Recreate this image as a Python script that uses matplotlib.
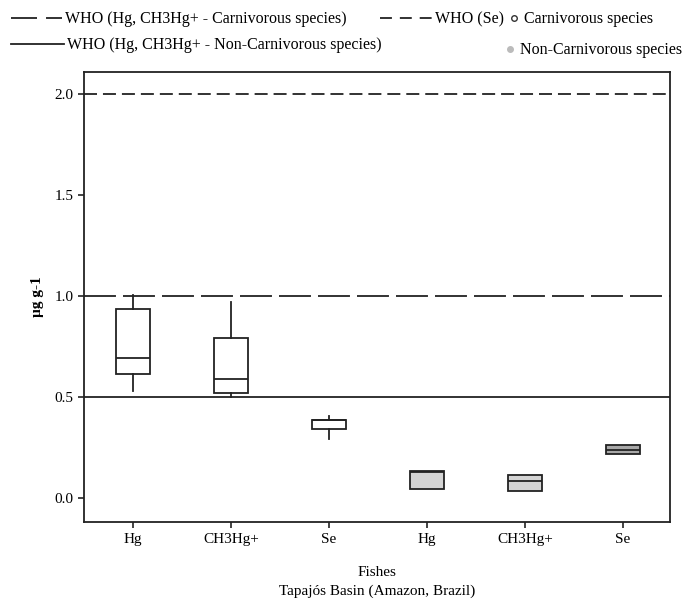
import matplotlib
matplotlib.use('Agg')
import matplotlib.pyplot as plt
from matplotlib.lines import Line2D

plt.rcParams['font.family'] = ['Liberation Serif', 'DejaVu Serif']

# box statistics (µg g-1)
labels = ['Hg', 'CH3Hg+', 'Se', 'Hg', 'CH3Hg+', 'Se']
whislo = [0.53, 0.50, 0.29, 0.043, 0.035, 0.218]
q1 = [0.615, 0.52, 0.342, 0.043, 0.035, 0.218]
med = [0.695, 0.59, 0.385, 0.13, 0.084, 0.239]
q3 = [0.935, 0.79, 0.387, 0.134, 0.115, 0.262]
whishi = [1.007, 0.97, 0.408, 0.134, 0.115, 0.262]
carnivorous = [True, True, True, False, False, False]

who_carn = 1.0
who_noncarn = 0.5
who_se = 2.0

fig = plt.figure(figsize=(6.89, 6.05), dpi=100)
ax = fig.add_axes([0.122, 0.137, 0.850, 0.744])

stats = []
for i in range(len(labels)):
    stats.append({'label': labels[i], 'whislo': whislo[i], 'q1': q1[i], 'med': med[i],
                  'q3': q3[i], 'whishi': whishi[i], 'fliers': []})

bp = ax.bxp(stats, positions=range(1, 7), widths=0.35, patch_artist=True, showcaps=False,
            boxprops=dict(edgecolor='#222222', linewidth=1.3),
            medianprops=dict(color='#222222', linewidth=1.3),
            whiskerprops=dict(color='#222222', linewidth=1.3))
for patch, c, i in zip(bp['boxes'], carnivorous, range(6)):
    if c:
        patch.set_facecolor('white')
    elif i == 5:
        patch.set_facecolor('#a8a8a8')
    else:
        patch.set_facecolor('#d4d4d4')

ax.axhline(who_se, color='#222222', lw=1.3, dashes=(7.2, 3.3))
ax.axhline(who_carn, color='#222222', lw=1.3, dashes=(17.7, 3.9))
ax.axhline(who_noncarn, color='#222222', lw=1.3)

ax.set_xlim(0.5, 6.48)
ax.set_ylim(-0.119, 2.109)
ax.set_yticks([0.0, 0.5, 1.0, 1.5, 2.0])
ax.set_yticklabels(['0.0', '0.5', '1.0', '1.5', '2.0'])
ax.tick_params(labelsize=11, length=4, width=1.2, color='#222222')
for s in ax.spines.values():
    s.set_linewidth(1.3)
    s.set_color('#222222')

ax.set_ylabel('µg g-1', fontsize=11, fontweight='bold', labelpad=8)
ax.set_xlabel('Fishes\nTapajós Basin (Amazon, Brazil)', fontsize=11, linespacing=1.5, labelpad=15)

# legend entries placed along the top
kw = dict(frameon=False, fontsize=11.5, handletextpad=0.2, borderaxespad=0, borderpad=0)
fig.legend([Line2D([], [], color='#222222', lw=1.3, dashes=(14.4, 5))],
           ['WHO (Hg, CH3Hg+ - Carnivorous species)'],
           loc='center left', bbox_to_anchor=(0.016, 0.968), handlelength=3.2, **kw)
fig.legend([Line2D([], [], color='#222222', lw=1.3)],
           ['WHO (Hg, CH3Hg+ - Non-Carnivorous species)'],
           loc='center left', bbox_to_anchor=(0.016, 0.925), handlelength=3.3, **kw)
fig.legend([Line2D([], [], color='#222222', lw=1.3, dashes=(6.6, 4.4))],
           ['WHO (Se)'],
           loc='center left', bbox_to_anchor=(0.551, 0.968), handlelength=3.25, **kw)
fig.legend([Line2D([], [], ls='none', marker='o', ms=4, mfc='white', mec='#333333')],
           ['Carnivorous species'],
           loc='center left', bbox_to_anchor=(0.737, 0.968), handlelength=0.8, **kw)
fig.legend([Line2D([], [], ls='none', marker='o', ms=4, mfc='#bbbbbb', mec='#bbbbbb')],
           ['Non-Carnivorous species'],
           loc='center left', bbox_to_anchor=(0.731, 0.917), handlelength=0.8, **kw)

fig.savefig('out.png', dpi=100)
